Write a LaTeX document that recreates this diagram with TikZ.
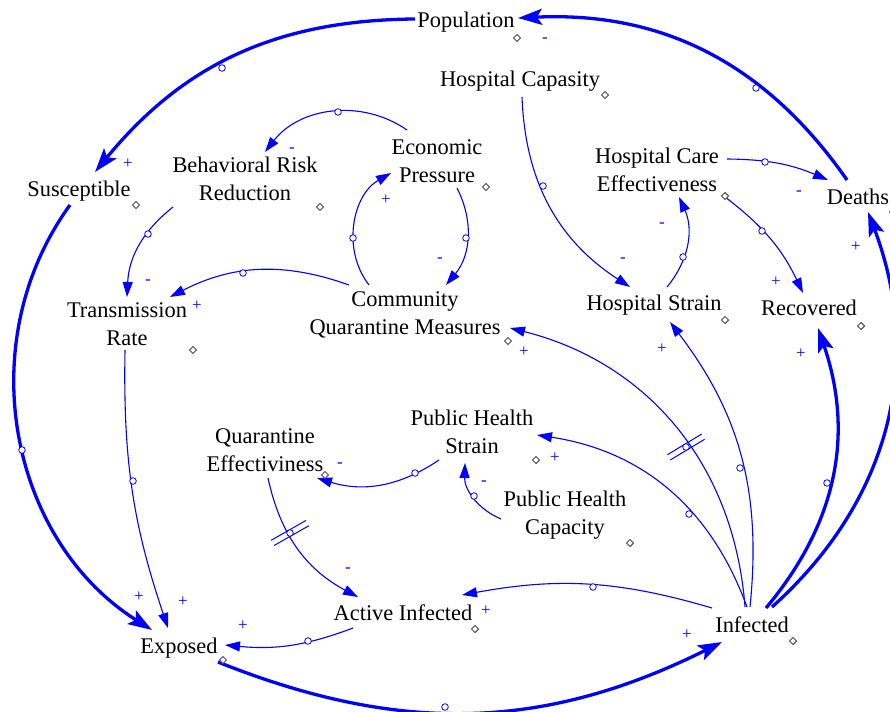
\documentclass[tikz,border=0pt]{standalone}
\usepackage{fontspec}
\setmainfont{Liberation Serif}
\usetikzlibrary{arrows.meta}
\newcommand\vdmd[2]{\draw[dmdst] (#1,#2) +(0,-3.6) -- +(3.6,0) -- +(0,3.6) -- +(-3.6,0) -- cycle;}
\newcommand\hcirc[2]{\draw[hnd] (#1,#2) circle (3.3);}
\begin{document}
\begin{tikzpicture}[x=1pt,y=-1pt,
  var/.style={font=\fontsize{22.4}{28}\selectfont, align=center, inner sep=0pt, text=black},
  lk/.style={draw=blue, line width=1.1pt, -{Triangle[length=15pt,width=10pt]}},
  flw/.style={draw=blue, line width=3.3pt, -{Stealth[length=24pt,width=16pt,inset=5pt]}},
  hnd/.style={draw=blue, fill=white, line width=0.8pt},
  pol/.style={text=blue, font=\fontsize{17}{17}\selectfont, inner sep=0pt},
  dmdst/.style={draw=black!70, line width=0.9pt, fill=white},
  dly/.style={draw=blue, line width=1pt}]
\useasboundingbox (0,0) rectangle (890,711);
% variables
\node[var] (pop) at (466,22.5) {Population};
\node[var] (hcap) at (520,81) {Hospital Capasity};
\node[var] (econ) at (437,161) {Economic\\Pressure};
\node[var] (brr) at (245,179) {Behavioral Risk\\Reduction};
\node[var] (sus) at (79,191) {Susceptible};
\node[var] (hce) at (657,170) {Hospital Care\\Effectiveness};
\node[var] (dea) at (858,197) {Deaths};
\node[var] (tr) at (127,324) {Transmission\\Rate};
\node[var] (cqm) at (405,315) {Community\\Quarantine Measures};
\node[var] (hs) at (654,305) {Hospital Strain};
\node[var] (rec) at (809,308) {Recovered};
\node[var] (phs) at (472,432) {Public Health\\Strain};
\node[var] (qe) at (265,450) {Quarantine\\Effectiviness};
\node[var] (phc) at (565,515) {Public Health\\Capacity};
\node[var] (ai) at (403,613) {Active Infected};
\node[var] (exp) at (179,648) {Exposed};
\node[var] (inf) at (752,625) {Infected};
% thick links
\draw[flw] ([shift={(-51,-3.5)}]pop.center) to[out=180.45,in=50.65] ([shift={(16,-19)}]sus.center);
\draw[flw] ([shift={(-9,14)}]sus.center) to[out=-126,in=147.8] ([shift={(-27,-18)}]exp.center);
\draw[flw] ([shift={(39,14)}]exp.center) to[out=-21.8,in=206.5] ([shift={(-30,17)}]inf.center);
\draw[flw] ([shift={(14,-17)}]inf.center) to[out=50.1,in=-71.1] ([shift={(9,20)}]rec.center);
\draw[flw] ([shift={(20,-18)}]inf.center) to[out=41.9,in=-69.3] ([shift={(10,15)}]dea.center);
\draw[flw] ([shift={(-11,-17)}]dea.center) to[out=124.9,in=2.7] ([shift={(52,-4.5)}]pop.center);
% thin links
\draw[lk] ([shift={(-30,-31)}]econ.center) to[out=145.5,in=52.1] ([shift={(20,-27)}]brr.center);
\draw[lk] ([shift={(-36,-30)}]cqm.center) to[out=128,in=209.8] ([shift={(-46,12)}]econ.center);
\draw[lk] ([shift={(20,27)}]econ.center) to[out=-63.2,in=50.2] ([shift={(41,-30)}]cqm.center);
\draw[lk] ([shift={(-72,28)}]brr.center) to[out=-141.5,in=87.3] ([shift={(0,-27)}]tr.center);
\draw[lk] ([shift={(-56,-30)}]cqm.center) to[out=160.4,in=27.2] ([shift={(43,-27)}]tr.center);
\draw[lk] ([shift={(-2,26)}]tr.center) to[out=-91,in=108.6] ([shift={(-11,-20)}]exp.center);
\draw[lk] ([shift={(2,16)}]hcap.center) to[out=-87.8,in=147] ([shift={(-24,-18)}]hs.center);
\draw[lk] ([shift={(13,-18)}]hs.center) to[out=50.6,in=294.2] ([shift={(22,27)}]hce.center);
\draw[lk] ([shift={(70,-11)}]hce.center) to[out=-0.6,in=157] ([shift={(-30,-17)}]dea.center);
\draw[lk] ([shift={(68,27)}]hce.center) to[out=-37.3,in=115.5] ([shift={(-6,-15)}]rec.center);
\draw[lk] ([shift={(-7,-18)}]inf.center) to[out=94.4,in=345.8] ([shift={(105,13)}]cqm.center);
\draw[lk] ([shift={(-2,-18)}]inf.center) to[out=84.2,in=307.2] ([shift={(16,17)}]hs.center);
\draw[lk] ([shift={(-5,-18)}]inf.center) to[out=110.1,in=351.3] ([shift={(65,3)}]phs.center);
\draw[lk] ([shift={(-33,28)}]phs.center) to[out=-146.1,in=-17.1] ([shift={(52,28)}]qe.center);
\draw[lk] ([shift={(-64,4)}]phc.center) to[out=157.1,in=268.3] ([shift={(-7,31)}]phs.center);
\draw[lk] ([shift={(3,28)}]qe.center) to[out=-77.8,in=152] ([shift={(-45,-16)}]ai.center);
\draw[lk] ([shift={(-40,-17)}]inf.center) to[out=163.6,in=10.4] ([shift={(59,-18)}]ai.center);
\draw[lk] ([shift={(-50,15)}]ai.center) to[out=-159.3,in=-5.5] ([shift={(46,-3)}]exp.center);
% delay marks
\draw[dly] (670.4,459.9) -- (704.6,439.3);
\draw[dly] (667.4,454.7) -- (701.6,434.1);
\draw[dly] (274.1,545.5) -- (308.9,525.7);
\draw[dly] (271.1,540.3) -- (305.9,520.5);
% handles
\hcirc{222}{68}\hcirc{22}{450}\hcirc{445}{707}\hcirc{827}{483}\hcirc{756}{88}
\hcirc{338}{112}\hcirc{353}{238}\hcirc{466}{238}\hcirc{148}{234}\hcirc{243}{273}
\hcirc{133}{481}\hcirc{543}{186}\hcirc{683}{257}\hcirc{765}{162}\hcirc{762}{231}
\hcirc{686}{447}\hcirc{740}{468}\hcirc{689}{514}\hcirc{415}{473}\hcirc{474}{496}
\hcirc{290}{533}\hcirc{593}{587}\hcirc{308}{641}
% diamonds
\vdmd{517}{38}\vdmd{605}{95}\vdmd{486}{187}\vdmd{320}{207}\vdmd{136}{205}
\vdmd{725}{196}\vdmd{193}{350}\vdmd{508}{341}\vdmd{725}{320}\vdmd{861}{326}
\vdmd{536}{460}\vdmd{325}{475}\vdmd{630}{543}\vdmd{475}{629}\vdmd{223}{660}
\vdmd{793}{641}\vdmd{893}{212}
% polarities
\node[pol] (s1) at (128,164) {+};
\node[pol] (s2) at (545,40) {-};
\node[pol] (s3) at (292,150) {-};
\node[pol] (s4) at (386,200) {+};
\node[pol] (s5) at (440,260) {-};
\node[pol] (s6) at (148,282) {-};
\node[pol] (s7) at (197,306) {+};
\node[pol] (s8) at (183,602) {+};
\node[pol] (s9) at (139,597) {+};
\node[pol] (s10) at (243,626) {+};
\node[pol] (s11) at (687,635) {+};
\node[pol] (s12) at (623,260) {-};
\node[pol] (s13) at (662,225) {-};
\node[pol] (s14) at (799,193) {-};
\node[pol] (s15) at (776,282) {+};
\node[pol] (s16) at (856,247) {+};
\node[pol] (s17) at (801,354) {+};
\node[pol] (s18) at (662,349) {+};
\node[pol] (s19) at (524,352) {+};
\node[pol] (s20) at (555,458) {+};
\node[pol] (s21) at (340,465) {-};
\node[pol] (s22) at (484,483) {-};
\node[pol] (s23) at (348,570) {-};
\node[pol] (s24) at (486,611) {+};
\end{tikzpicture}
\end{document}
